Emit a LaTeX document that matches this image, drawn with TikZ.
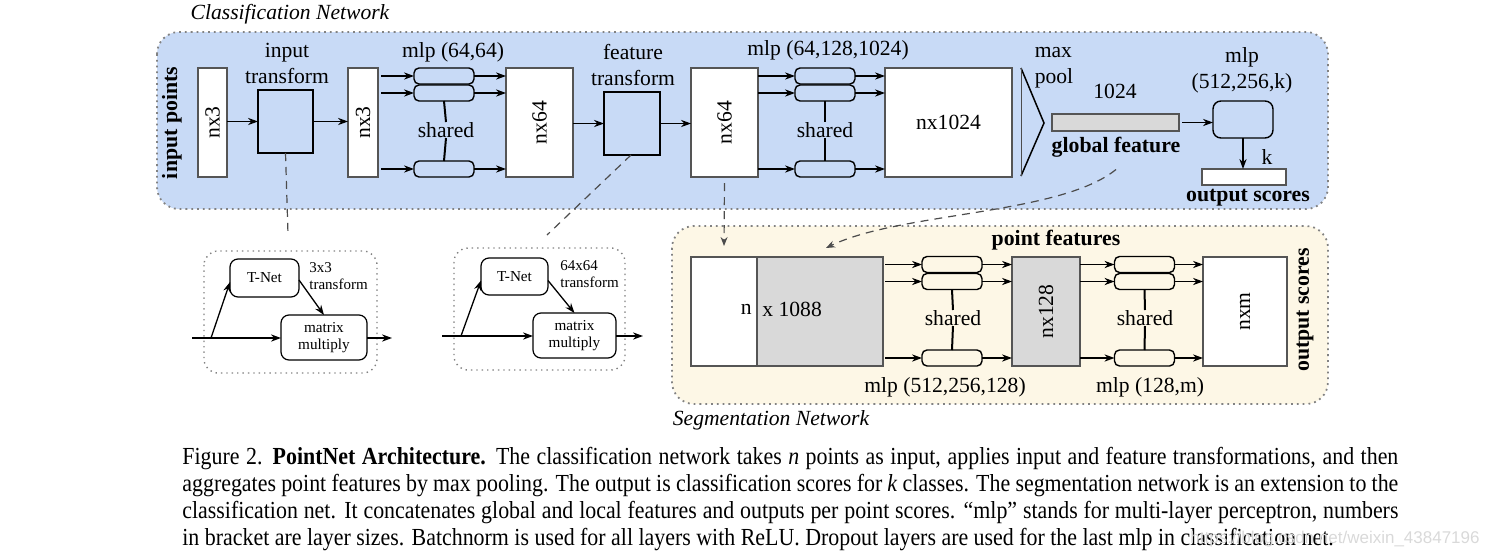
\documentclass[tikz,border=0pt]{standalone}
\usepackage{fontspec}
\setmainfont{Liberation Serif}
\newfontfamily\capfont{Liberation Serif}[FakeStretch=0.894]
\newfontfamily\wmfont{Liberation Sans}
\usetikzlibrary{arrows.meta,calc}
\definecolor{clsblue}{RGB}{200,218,246}
\definecolor{segbeige}{RGB}{253,247,230}
\definecolor{featgray}{RGB}{217,217,217}
\definecolor{boxedge}{RGB}{85,85,85}
\definecolor{paneledge}{RGB}{130,130,130}
\tikzset{
  panel/.style={draw=paneledge, dotted, line width=0.9pt, rounded corners=11pt},
  inpanel/.style={draw=paneledge, dotted, line width=0.7pt, rounded corners=7pt},
  tensor/.style={draw=boxedge, fill=white, line width=0.75pt, inner sep=0pt, outer sep=0pt},
  graytensor/.style={tensor, fill=featgray},
  tbox/.style={draw=black, fill=clsblue, line width=0.75pt, inner sep=0pt, outer sep=0pt},
  mlpbox/.style={draw=black, fill=clsblue, line width=0.7pt, rounded corners=2.5pt, inner sep=0pt, outer sep=0pt, minimum width=30pt, minimum height=8pt},
  segmlp/.style={mlpbox, fill=segbeige},
  inbox/.style={draw=black, fill=white, line width=0.6pt, rounded corners=4pt, inner sep=0pt, outer sep=0pt, font=\fontsize{7.6}{8.6}\selectfont, align=center},
  arr/.style={-{Stealth[length=5pt,width=3.6pt]}, line width=0.65pt},
  share/.style={line width=1pt},
  lbl/.style={font=\fontsize{10.8}{13}\selectfont, align=center, inner sep=0pt},
  blbl/.style={font=\fontsize{10.9}{13}\selectfont\bfseries, align=center, inner sep=0pt},
  ilbl/.style={font=\fontsize{7.5}{8.8}\selectfont, align=left, inner sep=0pt},
  ttl/.style={font=\fontsize{10.8}{12}\selectfont\itshape, inner sep=0pt},
  dashlink/.style={dashed, dash pattern=on 4pt off 3pt, line width=0.6pt, draw=black!70},
  capline/.style={font=\capfont\fontsize{12.25}{13.5}\selectfont, anchor=base west, inner sep=0pt}
}
\begin{document}
\begin{tikzpicture}[x=0.5pt,y=-0.5pt]
\useasboundingbox (0,0) rectangle (1485,558);

% ---------------- Classification network ----------------
\node[ttl] (clsttl) at (290,14) {Classification Network};
\draw[panel, fill=clsblue] (157,32) rectangle (1328,209);
\node[blbl, rotate=90] (inpts) at (172,123) {input points};

\node[tensor, minimum width=14.5pt, minimum height=54.5pt] (nx3a) at (212.5,122.5) {};
\node[lbl, rotate=90] at (nx3a) {nx3};
\node[lbl] (itlbl) at (287,63) {input\\transform};
\node[tbox, minimum width=27.5pt, minimum height=31.5pt] (itbox) at (285.5,121.5) {};
\node[tensor, minimum width=15pt, minimum height=54.5pt] (nx3b) at (363,122.5) {};
\node[lbl, rotate=90] at (nx3b) {nx3};
\draw[arr] (nx3a.east |- itbox.west) -- (itbox.west);
\draw[arr] (itbox.east) -- (nx3b.west |- itbox.east);

\node[lbl] (mlp1lbl) at (453,52) {mlp (64,64)};
\node[mlpbox] (m1a) at (444,76) {};
\node[mlpbox] (m1b) at (444,93) {};
\node[mlpbox] (m1c) at (444,169) {};
\node[lbl] (sh1) at (446,130) {shared};
\draw[share] (m1b.south) -- (sh1.north);
\draw[share] (sh1.south) -- (m1c.north);
\node[tensor, minimum width=33.5pt, minimum height=54.5pt] (nx64a) at (539.5,122.5) {};
\node[lbl, rotate=90] at (nx64a) {nx64};
\foreach \r in {m1a,m1b,m1c}{
  \draw[arr] ([xshift=1.5pt]nx3b.east |- \r.west) -- (\r.west);
  \draw[arr] (\r.east) -- (nx64a.west |- \r.east);
}

\node[lbl] (ftlbl) at (633,65) {feature\\transform};
\node[tbox, minimum width=28pt, minimum height=31.5pt] (ftbox) at (632,123.5) {};
\node[tensor, minimum width=33.5pt, minimum height=54.5pt] (nx64b) at (724.5,122.5) {};
\node[lbl, rotate=90] at (nx64b) {nx64};
\draw[arr] (nx64a.east |- ftbox.west) -- (ftbox.west);
\draw[arr] (ftbox.east) -- (nx64b.west |- ftbox.east);

\node[lbl] (mlp2lbl) at (828,50) {mlp (64,128,1024)};
\node[mlpbox] (m2a) at (825,76) {};
\node[mlpbox] (m2b) at (825,93) {};
\node[mlpbox] (m2c) at (825,169) {};
\node[lbl] (sh2) at (825,130) {shared};
\draw[share] (m2b.south) -- (sh2.north);
\draw[share] (sh2.south) -- (m2c.north);
\node[tensor, minimum width=63.5pt, minimum height=54.5pt] (nx1024) at (948.5,122.5) {};
\node[lbl] at (nx1024) {nx1024};
\foreach \r in {m2a,m2b,m2c}{
  \draw[arr] (nx64b.east |- \r.west) -- (\r.west);
  \draw[arr] (\r.east) -- (nx1024.west |- \r.east);
}

% max pool
\coordinate (poolTop) at (1021,68);
\coordinate (poolApex) at (1044,123);
\coordinate (poolBot) at (1021,176);
\draw[line width=0.75pt, line join=miter] (poolTop) -- (poolApex) -- (poolBot);
\draw[line width=0.4pt, draw=black!70] (poolTop) -- (poolBot);
\node[lbl, align=left] (poollbl) at (1054,68) {max\\pool};
\node[lbl] (g1024) at (1115,91) {1024};
\node[graytensor, minimum width=63.5pt, minimum height=8.5pt] (gbar) at (1115.5,122.5) {};
\node[blbl] (gflbl) at (1116,147) {global feature};
\node[lbl] (mlp3lbl) at (1242,70) {mlp\\(512,256,k)};
\node[mlpbox, minimum width=30pt, minimum height=18.5pt, rounded corners=4pt] (mlpc) at (1243,119.5) {};
\node[tensor, minimum width=42pt, minimum height=8pt] (outbar) at (1244,177) {};
\node[lbl] (klbl) at (1267,157) {k};
\node[blbl] (oslbl) at (1248,198) {output scores};
\draw[arr] ([xshift=1.5pt]gbar.east) -- (mlpc.west |- gbar.east);
\draw[arr] (mlpc.south) -- (outbar.north -| mlpc.south);

% ---------------- Segmentation network ----------------
\draw[panel, fill=segbeige] (672,226) rectangle (1328,404);
\node[ttl] (segttl) at (771,420) {Segmentation Network};
\node[blbl] (pflbl) at (1056,240) {point features};
\node[tensor, minimum width=33pt, minimum height=54.5pt] (segw) at (724,311.5) {};
\node[graytensor, minimum width=63pt, minimum height=54.5pt] (segg) at (820,311.5) {};
\node[lbl, anchor=east] (nlbl) at (752,309) {n};
\node[lbl, anchor=west] (x1088) at (762,309) {x 1088};

\node[segmlp] (m3a) at (952,264.5) {};
\node[segmlp] (m3b) at (952,281.5) {};
\node[segmlp] (m3c) at (952,358) {};
\node[lbl] (sh3) at (953,318) {shared};
\draw[share] (m3b.south) -- (sh3.north);
\draw[share] (sh3.south) -- (m3c.north);
\node[graytensor, minimum width=34pt, minimum height=54.5pt] (nx128) at (1046,311.5) {};
\node[lbl, rotate=90] at (nx128) {nx128};
\foreach \r in {m3a,m3b,m3c}{
  \draw[arr] ([xshift=1pt]segg.east |- \r.west) -- (\r.west);
  \draw[arr] (\r.east) -- (nx128.west |- \r.east);
}
\node[lbl] (mlp4lbl) at (945,387) {mlp (512,256,128)};

\node[segmlp] (m4a) at (1144.5,264.5) {};
\node[segmlp] (m4b) at (1144.5,281.5) {};
\node[segmlp] (m4c) at (1144.5,358) {};
\node[lbl] (sh4) at (1145,318) {shared};
\draw[share] (m4b.south) -- (sh4.north);
\draw[share] (sh4.south) -- (m4c.north);
\node[tensor, minimum width=42pt, minimum height=54.5pt] (nxm) at (1245,311.5) {};
\node[lbl, rotate=90] at (nxm) {nxm};
\foreach \r in {m4a,m4b,m4c}{
  \draw[arr] (nx128.east |- \r.west) -- (\r.west);
  \draw[arr] (\r.east) -- (nxm.west |- \r.east);
}
\node[lbl] (mlp5lbl) at (1150,387) {mlp (128,m)};
\node[blbl, rotate=90] (osv) at (1305,310) {output scores};

% ---------------- T-Net insets ----------------
\draw[inpanel] (204,251) rectangle (377,373);
\node[inbox, minimum width=34.5pt, minimum height=19pt] (tnet1) at (264.5,278) {T-Net};
\node[inbox, minimum width=43pt, minimum height=22.5pt] (mm1) at (324,337.5) {matrix\\multiply};
\node[ilbl, anchor=north west] (t1lbl) at (309,262) {3x3\\transform};
\coordinate (in1) at (192,338);
\coordinate (br1) at (211,338);
\coordinate (out1) at (392,338);
\draw[line width=0.65pt] (in1) -- (br1);
\draw[arr] (br1) -- (mm1.west |- br1);
\draw[arr] (br1) -- ([yshift=-2pt]tnet1.west);
\draw[arr] ([yshift=-1pt]tnet1.east) -- (mm1.north);
\draw[arr] (mm1.east |- out1) -- (out1);

\draw[inpanel] (454,248) rectangle (625,370);
\node[inbox, minimum width=33.5pt, minimum height=18.5pt] (tnet2) at (514.5,276.5) {T-Net};
\node[inbox, minimum width=41.5pt, minimum height=22.5pt] (mm2) at (574.5,335.5) {matrix\\multiply};
\node[ilbl, anchor=north west] (t2lbl) at (560,260) {64x64\\transform};
\coordinate (in2) at (442,336);
\coordinate (br2) at (461,336);
\coordinate (out2) at (643,336);
\draw[line width=0.65pt] (in2) -- (br2);
\draw[arr] (br2) -- (mm2.west |- br2);
\draw[arr] (br2) -- ([yshift=-2pt]tnet2.west);
\draw[arr] ([yshift=-2pt]tnet2.east) -- (mm2.north);
\draw[arr] (mm2.east |- out2) -- (out2);

% ---------------- dashed links ----------------
\coordinate (itend) at (288,234);
\coordinate (ftend) at (547,235);
\draw[dashlink] (itbox.south) -- (itend);
\draw[dashlink] ([xshift=-0.5pt]ftbox.south) -- (ftend);
\draw[dashlink, -{Stealth[length=4.5pt,width=3.5pt]}] ([yshift=-3pt]nx64b.south) -- ([yshift=5.5pt]segw.north);
\draw[dashlink, -{Stealth[length=4.5pt,width=3.5pt]}] ([yshift=-6pt]gflbl.south) .. controls (1060,215) and (900,212) .. ([xshift=3pt,yshift=4.5pt]segg.north);

% ---------------- caption ----------------
\node[capline] (cap1) at (182,464) {\makebox[608pt][s]{Figure 2. \textbf{PointNet Architecture.} The classification network takes \textit{n} points as input, applies input and feature transformations, and then}};
\node[capline] (cap2) at (182,491) {\makebox[608pt][s]{aggregates point features by max pooling. The output is classification scores for \textit{k} classes. The segmentation network is an extension to the}};
\node[capline] (cap3) at (182,518) {\makebox[608pt][s]{classification net. It concatenates global and local features and outputs per point scores. “mlp” stands for multi-layer perceptron, numbers}};
\node[capline] (cap4) at (182,545) {in bracket are layer sizes. Batchnorm is used for all layers with ReLU. Dropout layers are used for the last mlp in classification net.};
\node[font=\wmfont\fontsize{8.5}{10}\selectfont, text=black!15, anchor=base east, inner sep=0pt] (wm) at (1480,543) {https://blog.csdn.net/weixin\_43847196};
\end{tikzpicture}
\end{document}
